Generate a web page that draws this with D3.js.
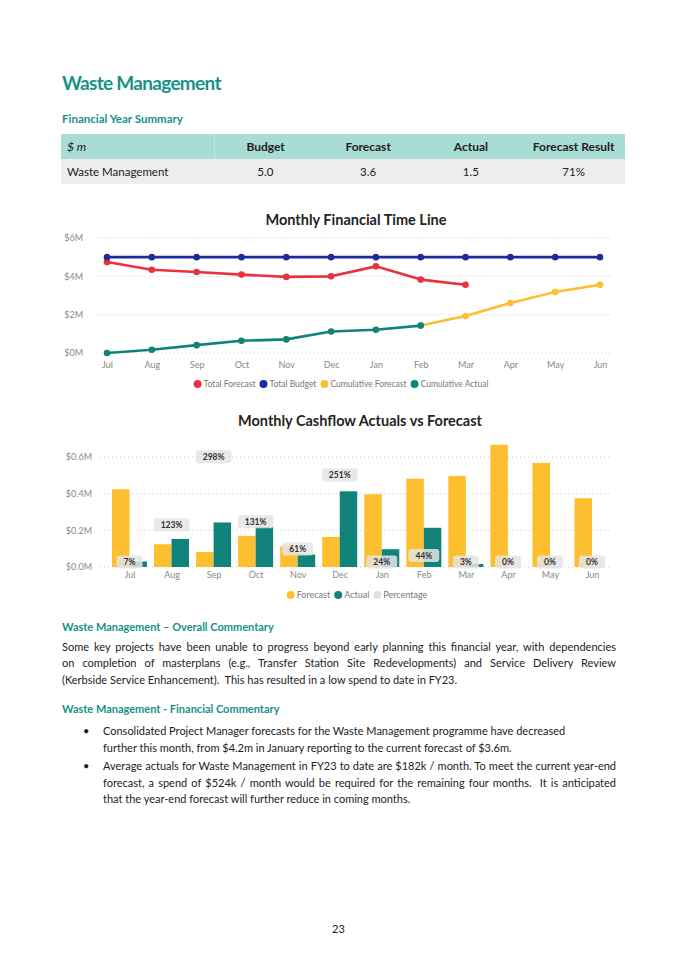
<!DOCTYPE html>
<html>
<head>
<meta charset="utf-8">
<script src="https://cdn.jsdelivr.net/npm/d3@7"></script>
<style>
  body { margin: 0; background: #fff; }
  #page { position: relative; width: 675px; height: 955px; font-family: Lato, sans-serif; color: #222; overflow: hidden; }
  .abs { position: absolute; white-space: nowrap; }
  .teal { color: #17918a; font-weight: bold; }
  .just { text-align: justify; text-align-last: justify; }
  .txt { font-size: 11px; }
  table { border-collapse: collapse; font-size: 11.5px; table-layout: fixed; }
  th, td { height: 25px; padding: 0 6px; }
  th { background: #a8dcd4; font-weight: bold; text-align: center; font-size: 12px; }
  td { background: #ededed; text-align: center; }
  svg { position: absolute; left: 0; top: 0; }
  svg text { font-family: Lato, sans-serif; }
</style>
</head>
<body>
<div id="page">
  <div class="abs teal" style="left:62px;top:71px;font-size:19px;letter-spacing:-0.7px;">Waste Management</div>
  <div class="abs teal" style="left:62px;top:112px;font-size:11.5px;">Financial Year Summary</div>
  <table class="abs" style="left:61px;top:134px;width:564px;">
    <colgroup><col style="width:153px"><col><col><col><col></colgroup>
    <tr><th style="text-align:left;font-style:italic;font-weight:normal;border-right:1px solid #c4e8e2;">$ m</th><th>Budget</th><th>Forecast</th><th>Actual</th><th>Forecast Result</th></tr>
    <tr><td style="text-align:left;">Waste Management</td><td>5.0</td><td>3.6</td><td>1.5</td><td>71%</td></tr>
  </table>

  <div class="abs teal txt" style="left:62px;top:620px;">Waste Management – Overall Commentary</div>
  <div class="abs just txt" style="left:62px;top:640px;width:554px;">Some key projects have been unable to progress beyond early planning this financial year, with dependencies</div>
  <div class="abs just txt" style="left:62px;top:656px;width:554px;">on completion of masterplans (e.g., Transfer Station Site Redevelopments) and Service Delivery Review</div>
  <div class="abs txt" style="left:62px;top:673px;">(Kerbside Service Enhancement).&nbsp; This has resulted in a low spend to date in FY23.</div>

  <div class="abs teal txt" style="left:62px;top:702px;">Waste Management - Financial Commentary</div>
  <div class="abs txt" style="left:83px;top:724px;">•</div>
  <div class="abs txt" style="left:103px;top:724px;">Consolidated Project Manager forecasts for the Waste Management programme have decreased</div>
  <div class="abs txt" style="left:103px;top:741px;">further this month, from $4.2m in January reporting to the current forecast of $3.6m.</div>
  <div class="abs txt" style="left:83px;top:759px;">•</div>
  <div class="abs just txt" style="left:103px;top:759px;width:513px;">Average actuals for Waste Management in FY23 to date are $182k / month. To meet the current year-end</div>
  <div class="abs just txt" style="left:103px;top:776px;width:513px;">forecast, a spend of $524k / month would be required for the remaining four months.&nbsp; It is anticipated</div>
  <div class="abs txt" style="left:103px;top:792px;">that the year-end forecast will further reduce in coming months.</div>

  <div class="abs txt" style="left:332px;top:922px;">23</div>
  <svg id="charts" width="675" height="955"></svg>
</div>
<script>
const months = ['Jul', 'Aug', 'Sep', 'Oct', 'Nov', 'Dec', 'Jan', 'Feb', 'Mar', 'Apr', 'May', 'Jun'];

// Monthly Financial Time Line ($M)
const totalBudget = [5, 5, 5, 5, 5, 5, 5, 5, 5, 5, 5, 5];
const totalForecast = [4.75, 4.34, 4.23, 4.09, 3.97, 4.0, 4.52, 3.83, 3.56];       // Jul-Mar
const cumulativeActual = [0, 0.17, 0.41, 0.64, 0.71, 1.12, 1.21, 1.43];           // Jul-Feb
const cumulativeForecastMonths = ['Feb', 'Mar', 'Apr', 'May', 'Jun'];
const cumulativeForecast = [1.43, 1.93, 2.61, 3.18, 3.56];
const lineTicks = [0, 2, 4, 6];

// Monthly Cashflow Actuals vs Forecast ($M)
const monthlyForecast = [0.424, 0.124, 0.082, 0.17, 0.112, 0.164, 0.397, 0.482, 0.497, 0.667, 0.568, 0.375];
const monthlyActual = [0.03, 0.153, 0.243, 0.219, 0.068, 0.413, 0.097, 0.214, 0.016, 0, 0, 0];
const percentages = [7, 123, 298, 131, 61, 251, 24, 44, 3, 0, 0, 0];
const barTicks = [0, 0.2, 0.4, 0.6];

const RED = '#e8323f', NAVY = '#1c2a9e', YELLOW = '#fdbf2f', TEAL = '#11837a';
const svg = d3.select('#charts');

function legend(g, items, cx, y, size) {
  const row = g.append('g');
  let x = 0;
  items.forEach(it => {
    row.append('circle').attr('cx', x + 4).attr('cy', y).attr('r', 4).attr('fill', it.color);
    const t = row.append('text').attr('x', x + 10).attr('y', y + 3.2)
      .attr('font-size', size).attr('fill', '#777').text(it.label);
    x += 10 + t.node().getComputedTextLength() + 4;
  });
  row.attr('transform', `translate(${cx - x / 2},0)`);
}

function styleAxis(g) {
  g.select('.domain').remove();
  g.selectAll('text').attr('font-size', 9).attr('fill', '#888').attr('font-family', 'Lato, sans-serif');
}

// ---- line chart ----
const lc = svg.append('g');
const xl = d3.scalePoint().domain(months).range([107, 600]);
const yl = d3.scaleLinear().domain([0, 6]).range([353, 238]);

lc.append('text').attr('x', 356).attr('y', 225).attr('text-anchor', 'middle')
  .attr('font-size', 14.5).attr('font-weight', 'bold').attr('fill', '#252423')
  .text('Monthly Financial Time Line');

lc.append('g').selectAll('line').data(lineTicks).join('line')
  .attr('x1', 97).attr('x2', 612).attr('y1', d => yl(d)).attr('y2', d => yl(d))
  .attr('stroke', '#c8c8c8').attr('stroke-dasharray', '1,3');
lc.append('g').call(d3.axisLeft(yl).tickValues(lineTicks).tickFormat(d => '$' + d + 'M').tickSize(0))
  .attr('transform', 'translate(86,0)').call(styleAxis);
lc.append('g').call(d3.axisBottom(xl).tickSize(0))
  .attr('transform', 'translate(0,359)').call(styleAxis);

function series(data, color) {
  const line = d3.line().x(d => xl(d.m)).y(d => yl(d.v));
  lc.append('path').datum(data).attr('d', line).attr('fill', 'none')
    .attr('stroke', color).attr('stroke-width', 2.6).attr('stroke-linejoin', 'round');
  lc.append('g').selectAll('circle').data(data).join('circle')
    .attr('cx', d => xl(d.m)).attr('cy', d => yl(d.v)).attr('r', 3.3).attr('fill', color);
}
series(totalForecast.map((v, i) => ({ m: months[i], v })), RED);
series(totalBudget.map((v, i) => ({ m: months[i], v })), NAVY);
series(cumulativeForecast.map((v, i) => ({ m: cumulativeForecastMonths[i], v })), YELLOW);
series(cumulativeActual.map((v, i) => ({ m: months[i], v })), TEAL);

legend(lc, [
  { label: 'Total Forecast', color: RED },
  { label: 'Total Budget', color: NAVY },
  { label: 'Cumulative Forecast', color: YELLOW },
  { label: 'Cumulative Actual', color: TEAL }
], 343, 384, 8.5);

// ---- bar chart ----
const bc = svg.append('g');
const xb = d3.scalePoint().domain(months).range([129.5, 592]);
const sub = d3.scaleBand().domain(['Forecast', 'Actual']).range([-17.5, 17.5]);
const yb = d3.scaleLinear().domain([0, 0.6]).range([567, 457]);
const yp = d3.scaleLinear().domain([0, 300]).range([572.7, 456]);

bc.append('text').attr('x', 360).attr('y', 426).attr('text-anchor', 'middle')
  .attr('font-size', 14.5).attr('font-weight', 'bold').attr('fill', '#252423')
  .text('Monthly Cashflow Actuals vs Forecast');

bc.append('g').selectAll('line').data(barTicks).join('line')
  .attr('x1', 100).attr('x2', 612).attr('y1', d => yb(d)).attr('y2', d => yb(d))
  .attr('stroke', '#c8c8c8').attr('stroke-dasharray', '1,3');
bc.append('g').call(d3.axisLeft(yb).tickValues(barTicks).tickFormat(d => '$' + d.toFixed(1) + 'M').tickSize(0))
  .attr('transform', 'translate(95,0)').call(styleAxis);
bc.append('g').call(d3.axisBottom(xb).tickSize(0))
  .attr('transform', 'translate(0,569)').call(styleAxis);

const barData = months.map((m, i) => ({ m, f: monthlyForecast[i], a: monthlyActual[i], p: percentages[i] }));
bc.append('g').selectAll('rect').data(barData).join('rect')
  .attr('x', d => xb(d.m) + sub('Forecast')).attr('width', sub.bandwidth())
  .attr('y', d => yb(d.f)).attr('height', d => yb(0) - yb(d.f)).attr('fill', YELLOW);
bc.append('g').selectAll('rect').data(barData).join('rect')
  .attr('x', d => xb(d.m) + sub('Actual')).attr('width', sub.bandwidth())
  .attr('y', d => yb(d.a)).attr('height', d => yb(0) - yb(d.a)).attr('fill', TEAL);

const labels = bc.append('g').selectAll('g').data(barData).join('g')
  .attr('transform', d => `translate(${xb(d.m)},${Math.min(yp(d.p), 562)})`);
labels.each(function (d) {
  const g = d3.select(this);
  const box = g.append('rect').attr('fill', '#e4e4e4').attr('opacity', 0.85).attr('rx', 3);
  const t = g.append('text').attr('text-anchor', 'middle').attr('y', 3)
    .attr('font-size', 8.5).attr('font-weight', 'bold').attr('fill', '#333').text(d.p + '%');
  const w = t.node().getComputedTextLength() + 14;
  box.attr('x', -w / 2).attr('y', -6.5).attr('width', w).attr('height', 13);
});

legend(bc, [
  { label: 'Forecast', color: YELLOW },
  { label: 'Actual', color: TEAL },
  { label: 'Percentage', color: '#e0e0e0' }
], 359, 595, 9);
</script>
</body>
</html>
